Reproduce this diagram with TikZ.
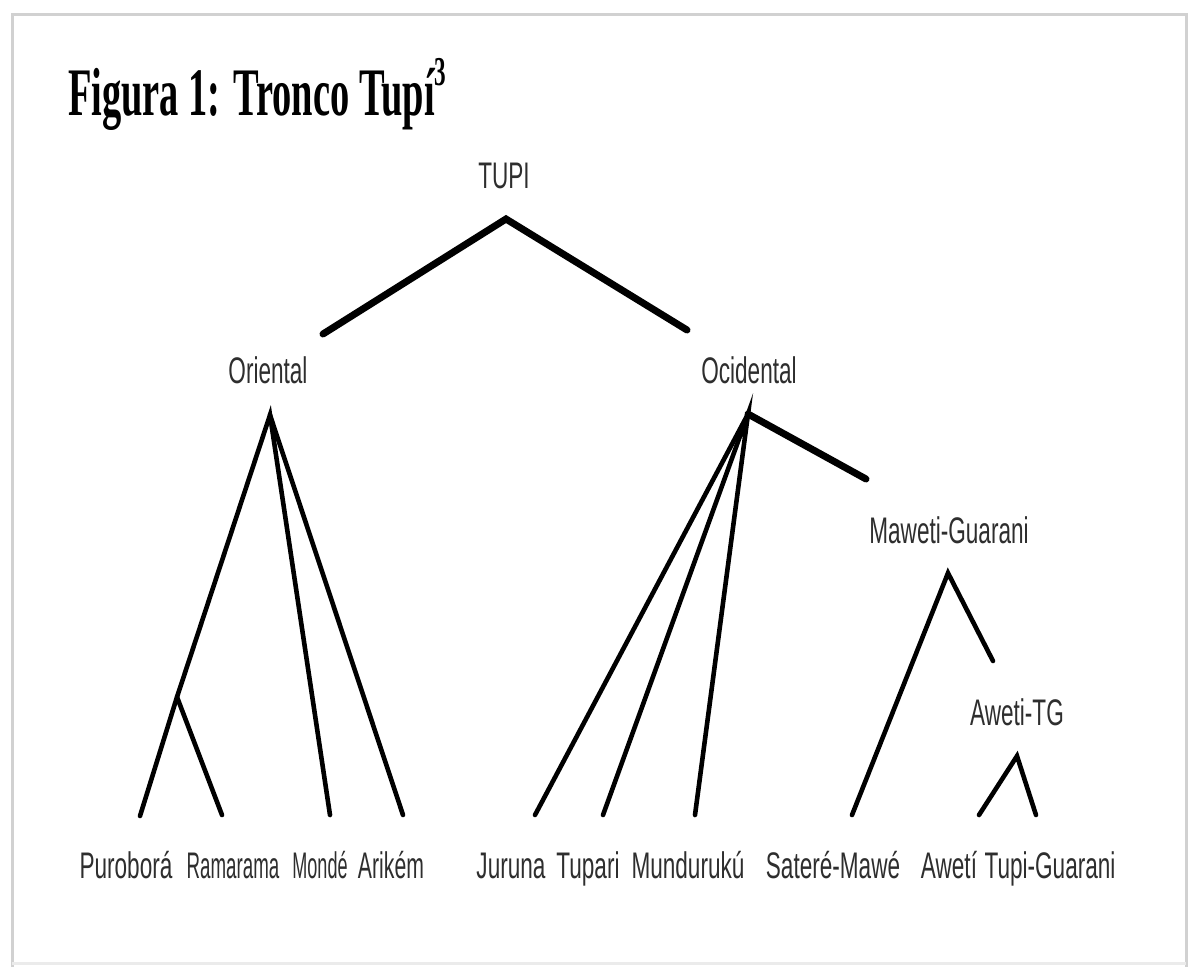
\documentclass[tikz,border=0pt]{standalone}
\usepackage{fontspec}
\newfontfamily\labelfont[FakeStretch=0.61]{Liberation Sans}
\newfontfamily\titlefont[FakeStretch=0.565]{Liberation Serif Bold}
\tikzset{
  lang/.style={inner sep=0pt, anchor=base, text=black!82,
    font=\labelfont\fontsize{37}{40}\selectfont},
  branch/.style={draw=black, line width=4.6pt, line cap=round, line join=miter},
  trunk/.style={draw=black, line width=7pt, line cap=round, line join=miter},
  frame/.style={draw=black!18, line width=3pt}
}
\newcommand{\tight}[2]{\scalebox{#1}[1]{#2}}
\begin{document}
\begin{tikzpicture}[x=1pt,y=-1pt]
\useasboundingbox (0,0) rectangle (1192,967);
\fill[white] (0,0) rectangle (1192,967);
% page frame
\draw[frame] (12,967) -- (12,14) -- (1186,14) -- (1186,967);
\draw[frame, draw=black!8] (12,963) -- (1186,963);

% title
\node[anchor=base west, inner sep=0pt, font=\titlefont\fontsize{68}{72}\selectfont]
  (title) at (68,115) {Figura 1: Tronco Tupí\raisebox{30pt}{\fontsize{41}{41}\selectfont 3}};

% labels
\node[lang] (tupi) at (504,188) {TUPI};
\node[lang] (oriental) at (268,383) {Oriental};
\node[lang] (ocidental) at (749,383) {Ocidental};
\node[lang] (maweti) at (949,543) {Maweti-Guarani};
\node[lang] (awetitg) at (1017,725) {Aweti-TG};
\node[lang] (purobora) at (126,878) {Puroborá};
\node[lang] (ramarama) at (233,878) {\tight{0.83}{Ramarama}};
\node[lang] (monde) at (320,878) {\tight{0.8}{Mondé}};
\node[lang] (arikem) at (391,878) {\tight{0.94}{Arikém}};
\node[lang] (juruna) at (511,878) {Juruna};
\node[lang] (tupari) at (588,878) {Tupari};
\node[lang] (munduruku) at (688,878) {Mundurukú};
\node[lang] (satere) at (833,878) {Sateré-Mawé};
\node[lang] (aweti) at (949,878) {Awetí};
\node[lang] (tupiguarani) at (1050,878) {Tupi-Guarani};

% branch points
\coordinate (tupiTop) at (506,219);
\coordinate (orientalIn) at (323,334);
\coordinate (ocidentalIn) at (687,330);
\coordinate (orientalTop) at (270,415);
\coordinate (ocidentalTop) at (748,414);
\coordinate (pr) at (177,697);
\coordinate (puroboraIn) at (140,816);
\coordinate (ramaramaIn) at (222,815);
\coordinate (mondeIn) at (330,815);
\coordinate (arikemIn) at (403,815);
\coordinate (jurunaIn) at (535,815);
\coordinate (tupariIn) at (603,815);
\coordinate (mundurukuIn) at (695,815);
\coordinate (mawetiIn) at (866,479);
\coordinate (mawetiTop) at (948,573);
\coordinate (satereIn) at (852,815);
\coordinate (awetitgIn) at (993,661);
\coordinate (awetitgTop) at (1017,756);
\coordinate (awetiIn) at (979,815);
\coordinate (tupiguaraniIn) at (1036,815);

% tree
\draw[trunk] (orientalIn) -- (tupiTop) -- (ocidentalIn);
\draw[branch] (puroboraIn) -- (pr) -- (orientalTop) -- (mondeIn);
\draw[branch] (pr) -- (ramaramaIn);
\draw[branch] (orientalTop) -- (arikemIn);
\draw[branch] (jurunaIn) -- (ocidentalTop);
\draw[branch] (tupariIn) -- (ocidentalTop) -- (mundurukuIn);
\draw[trunk] (ocidentalTop) -- (mawetiIn);
\draw[branch] (satereIn) -- (mawetiTop) -- (awetitgIn);
\draw[branch] (awetiIn) -- (awetitgTop) -- (tupiguaraniIn);
\end{tikzpicture}
\end{document}
